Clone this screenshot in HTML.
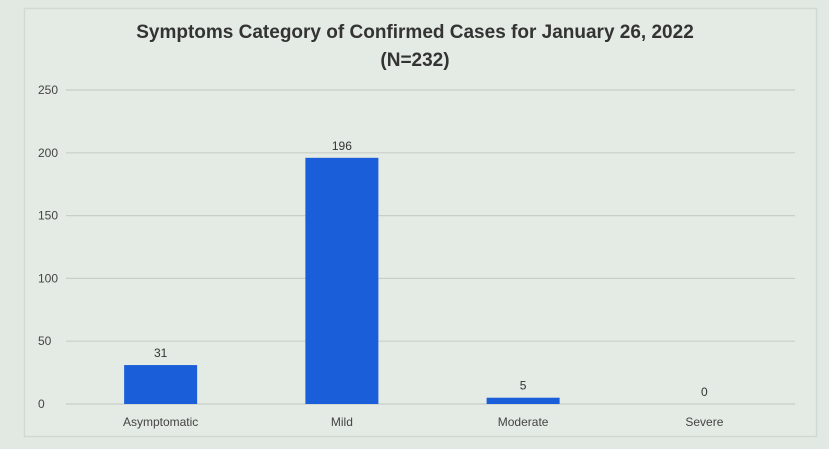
<!DOCTYPE html>
<html><head><meta charset="utf-8"><style>
html,body{margin:0;padding:0;background:#e2e8e2;}
svg{display:block;font-family:"Liberation Sans",sans-serif;}
</style></head><body>
<svg id="chart" width="829" height="449" viewBox="0 0 829 449">
<rect x="0" y="0" width="829" height="449" fill="#e2e8e2"/>
<rect x="24.5" y="8.5" width="792" height="428" fill="#e4eae4" stroke="#d2d8d2" stroke-width="1.5"/>
<text x="415" y="38" text-anchor="middle" font-size="19" font-weight="bold" fill="#333">Symptoms Category of Confirmed Cases for  January 26, 2022</text>
<text x="415" y="66" text-anchor="middle" font-size="19" font-weight="bold" fill="#333">(N=232)</text>
<g id="grid"></g><g id="bars"></g>
</svg>
<script>
const categories = ["Asymptomatic","Mild","Moderate","Severe"];
const values = [31,196,5,0];
const ticks = [0,50,100,150,200,250];
const NS="http://www.w3.org/2000/svg";
const x0=70,x1=795,y0=404,y1=90,maxV=250;
function yS(v){return y0-(v/maxV)*(y0-y1);}
function xC(i){const w=(x1-x0)/categories.length;return x0+w*(i+0.5);}
const svg=document.getElementById('chart');
const grid=document.getElementById('grid'),bars=document.getElementById('bars');
function mk(tag,attrs,parent,text){const e=document.createElementNS(NS,tag);for(const k in attrs)e.setAttribute(k,attrs[k]);if(text!==undefined)e.textContent=text;parent.appendChild(e);return e;}
ticks.forEach(t=>{
  const l=mk('line',{x1:x0-4,x2:x1,y1:yS(t),y2:yS(t),stroke:'#c8cec8','stroke-width':1.2},grid);
  
  
  const tx=mk('text',{x:38,y:yS(t)+4,'font-size':12,fill:'#444'},grid,String(t));
  
  
});
const bw=73;
categories.forEach((c,i)=>{
  const cx=xC(i),v=values[i];
  const r=mk('rect',{x:cx-bw/2,y:yS(v),width:bw,height:y0-yS(v),fill:'#1a5fd9'},bars);
  
  
  const lb=mk('text',{x:cx,y:yS(v)-8,'text-anchor':'middle','font-size':12,fill:'#333'},bars,String(v));
  
  
  const xl=mk('text',{x:cx,y:426,'text-anchor':'middle','font-size':12,fill:'#444'},bars,c);
  
  
});
</script>
</body></html>
